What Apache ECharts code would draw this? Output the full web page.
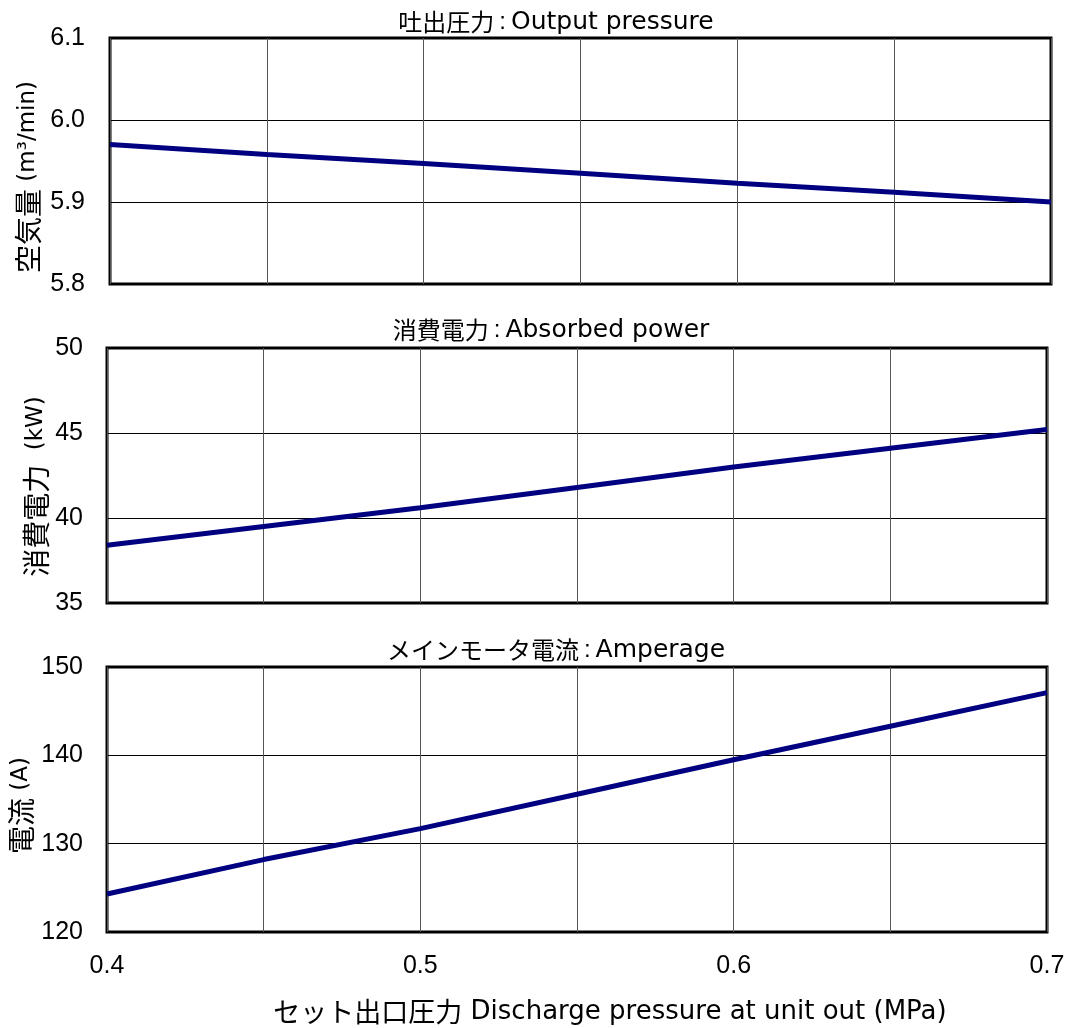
<!DOCTYPE html>
<html>
<head>
<meta charset="utf-8">
<script src="https://cdn.jsdelivr.net/npm/echarts@6/dist/echarts.min.js"></script>
<style>
html,body{margin:0;padding:0;background:#fff;}
#chart{width:1069px;height:1028px;}
</style>
</head>
<body>
<div id="chart"></div>
<script>
// Data
var pressure = [0.4, 0.45, 0.5, 0.55, 0.6, 0.65, 0.7];
var airflow = [5.970, 5.958, 5.947, 5.935, 5.923, 5.912, 5.900];
var power = [38.4, 39.5, 40.6, 41.8, 43.0, 44.1, 45.2];
var amperage = [124.3, 128.2, 131.7, 135.6, 139.5, 143.3, 147.1];
var panelTitlesJa = ['吐出圧力', '消費電力', 'メインモータ電流'];
var panelTitlesEn = ['Output pressure', 'Absorbed power', 'Amperage'];
var xAxisTitleJa = 'セット出口圧力';
var xAxisTitleEn = 'Discharge pressure at unit out (MPa)';

function pairs(ys) { return pressure.map(function (x, i) { return [x, ys[i]]; }); }

var cjk = '"Noto Sans CJK JP", sans-serif';
var num = '"Liberation Sans", Arial, sans-serif';
var wide = '"DejaVu Sans", sans-serif';

function xAxisFor(idx, showLabels) {
  return {
    type: 'value', gridIndex: idx, min: 0.4, max: 0.7, interval: 0.05,
    axisLine: { show: false }, axisTick: { show: false },
    splitLine: { show: true, lineStyle: { color: '#555', width: 1 } },
    axisLabel: {
      show: showLabels, margin: 22, fontSize: 25, color: '#000', fontFamily: num,
      formatter: function (v) {
        var t = v * 10;
        return Math.abs(t - Math.round(t)) < 1e-6 ? v.toFixed(1) : '';
      }
    }
  };
}
function yAxisFor(idx, min, max, interval, dec, nameRich, gap, margin, shift) {
  return {
    type: 'value', gridIndex: idx, min: min, max: max, interval: interval,
    axisLine: { show: false }, axisTick: { show: false },
    splitLine: { show: true, lineStyle: { color: '#000', width: 1 } },
    axisLabel: { margin: margin, fontSize: 25, color: '#000', fontFamily: num,
      formatter: function (v) { return v.toFixed(dec); } },
    name: nameRich, nameLocation: 'middle', nameRotate: 90, nameGap: gap,
    nameMoveOverlap: false,
    nameTextStyle: {
      color: '#000', fontSize: 24, fontFamily: wide,
      padding: [0, shift, 0, 0],
      rich: {
        a: { fontSize: 28, fontFamily: cjk, color: '#000' },
        b: { fontSize: 23, fontFamily: wide, color: '#000' }
      }
    }
  };
}
function titleText(ja, en) {
  return '{a|' + ja + '}{c|:}{b|' + en + '}';
}
var titleRich = {
  a: { fontSize: 24, fontFamily: cjk, fill: '#000' },
  c: { fontSize: 24, fontFamily: num, fill: '#000', padding: [0, 5, 0, 5] },
  b: { fontSize: 25, fontFamily: wide, fill: '#000' }
};

var chart = echarts.init(document.getElementById('chart'));
var gridBase = { show: true, borderColor: '#000', borderWidth: 3, containLabel: false, outerBoundsMode: 'none' };
var option = {
  backgroundColor: '#fff',
  animation: false,
  grid: [
    Object.assign({ left: 110, right: 18, top: 38, height: 246 }, gridBase),
    Object.assign({ left: 107, right: 22, top: 348, height: 255 }, gridBase),
    Object.assign({ left: 107, right: 22, top: 667, height: 265 }, gridBase)
  ],
  xAxis: [xAxisFor(0, false), xAxisFor(1, false), xAxisFor(2, true)],
  yAxis: [
    yAxisFor(0, 5.8, 6.1, 0.1, 1, '{a|空気量}{b| (m³/min)}', 68, 25, 32),
    yAxisFor(1, 35, 50, 5, 0, '{a|消費電力}{b|  (kW)}', 57, 24, 22),
    yAxisFor(2, 120, 150, 10, 0, '{a|電流}{b| (A)}', 72, 24, 12)
  ],
  series: [
    { type: 'line', xAxisIndex: 0, yAxisIndex: 0, data: pairs(airflow), showSymbol: false, symbol: 'none',
      lineStyle: { color: '#000080', width: 5 }, z: 5 },
    { type: 'line', xAxisIndex: 1, yAxisIndex: 1, data: pairs(power), showSymbol: false, symbol: 'none',
      lineStyle: { color: '#000080', width: 5 }, z: 5 },
    { type: 'line', xAxisIndex: 2, yAxisIndex: 2, data: pairs(amperage), showSymbol: false, symbol: 'none',
      lineStyle: { color: '#000080', width: 5 }, z: 5 }
  ],
  graphic: [
    { type: 'text', x: 556, y: 22, style: { text: titleText(panelTitlesJa[0], panelTitlesEn[0]), rich: titleRich, textAlign: 'center', textVerticalAlign: 'middle' } },
    { type: 'text', x: 551, y: 330, style: { text: titleText(panelTitlesJa[1], panelTitlesEn[1]), rich: titleRich, textAlign: 'center', textVerticalAlign: 'middle' } },
    { type: 'text', x: 556, y: 650, style: { text: titleText(panelTitlesJa[2], panelTitlesEn[2]), rich: titleRich, textAlign: 'center', textVerticalAlign: 'middle' } },
    { type: 'text', x: 610, y: 1012, style: { text: '{a|' + xAxisTitleJa + '}{b| ' + xAxisTitleEn + '}',
      rich: { a: { fontSize: 27, fontFamily: cjk, fill: '#000' }, b: { fontSize: 26, fontFamily: wide, fill: '#000' } },
      textAlign: 'center', textVerticalAlign: 'middle' } }
  ]
};
chart.setOption(option);
</script>
</body>
</html>
